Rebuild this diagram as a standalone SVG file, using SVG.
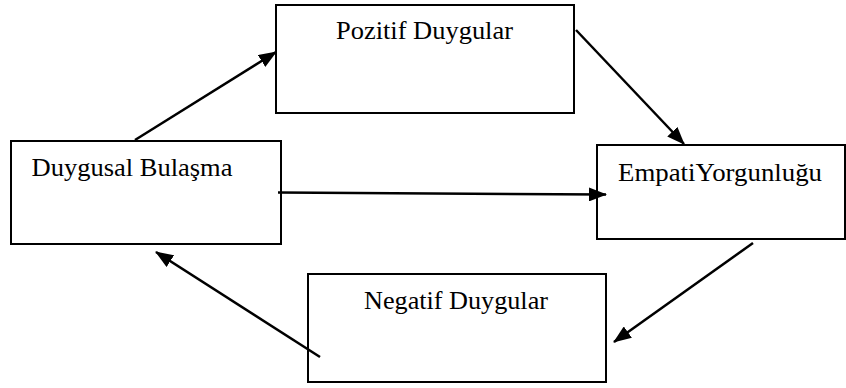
<svg xmlns="http://www.w3.org/2000/svg" width="846" height="388" viewBox="0 0 846 388">
  <style>
    .box { fill: #ffffff; stroke: #000000; stroke-width: 2; }
    .label { font-family: 'Liberation Serif', 'Times New Roman', Times, serif; font-size: 24.5px; fill: #000000; }
    .edge { stroke: #000000; stroke-width: 2.5; fill: none; marker-end: url(#arrow); }
  </style>
  <defs>
    <marker id="arrow" markerWidth="18" markerHeight="14" refX="17" refY="7" orient="auto" markerUnits="userSpaceOnUse">
      <path d="M0,0 L18,7 L0,14 Z" fill="#000000"/>
    </marker>
  </defs>
  <rect width="846" height="388" fill="#ffffff"/>

  <g id="node-pozitif">
    <rect class="box" x="276" y="5" width="298" height="108"/>
    <text class="label" x="336" y="39" textLength="177" lengthAdjust="spacingAndGlyphs">Pozitif Duygular</text>
  </g>

  <g id="node-duygusal">
    <rect class="box" x="11" y="141" width="270" height="103"/>
    <text class="label" x="31.5" y="175.5" textLength="201" lengthAdjust="spacingAndGlyphs">Duygusal Bulaşma</text>
  </g>

  <g id="node-empati">
    <rect class="box" x="597" y="145" width="248" height="94"/>
    <text class="label" x="618" y="181" textLength="204" lengthAdjust="spacingAndGlyphs">EmpatiYorgunluğu</text>
  </g>

  <g id="node-negatif">
    <rect class="box" x="308" y="274" width="298" height="108"/>
    <text class="label" x="364" y="309" textLength="184" lengthAdjust="spacingAndGlyphs">Negatif Duygular</text>
  </g>

  <g id="connectors">
    <line class="edge" x1="135" y1="140" x2="276" y2="52"/>
    <line class="edge" x1="576" y1="30" x2="684" y2="144"/>
    <line class="edge" x1="278" y1="192.5" x2="606" y2="194.5"/>
    <line class="edge" x1="753" y1="243" x2="614" y2="342"/>
    <line class="edge" x1="320" y1="357" x2="156" y2="252"/>
  </g>
</svg>
